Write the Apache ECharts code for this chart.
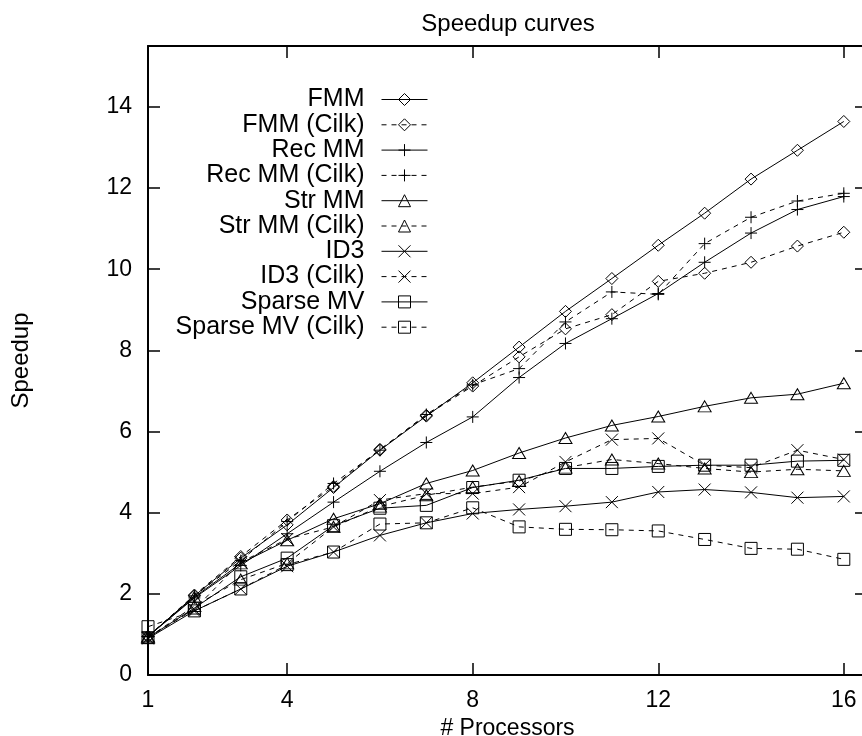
<!DOCTYPE html>
<html>
<head>
<meta charset="utf-8">
<title>Speedup curves</title>
<script src="https://cdn.jsdelivr.net/npm/echarts@6/dist/echarts.min.js"></script>
<style>
  html, body { margin: 0; padding: 0; background: #fff; }
  #chart { width: 862px; height: 736px; }
</style>
</head>
<body>
<div id="chart"></div>
<script>
// number of processors
const procs = [1, 2, 3, 4, 5, 6, 7, 8, 9, 10, 11, 12, 13, 14, 15, 16];
const xTicks = [1, 4, 8, 12, 16];
const yTicks = [0, 2, 4, 6, 8, 10, 12, 14];

// speedup values
const fmm          = [0.95, 1.95, 2.88, 3.70, 4.62, 5.54, 6.38, 7.20, 8.08, 8.96, 9.77, 10.59, 11.38, 12.22, 12.93, 13.64];
const fmmCilk      = [0.95, 1.97, 2.92, 3.82, 4.65, 5.56, 6.40, 7.12, 7.84, 8.53, 8.88, 9.70, 9.90, 10.17, 10.57, 10.91];
const recMM        = [0.95, 1.90, 2.70, 3.48, 4.26, 5.02, 5.73, 6.36, 7.33, 8.17, 8.78, 9.40, 10.17, 10.89, 11.47, 11.79];
const recMMCilk    = [0.95, 1.95, 2.82, 3.78, 4.72, 5.54, 6.42, 7.15, 7.55, 8.70, 9.44, 9.38, 10.63, 11.28, 11.68, 11.87];
const strMM        = [0.95, 1.92, 2.75, 3.32, 3.85, 4.22, 4.72, 5.04, 5.47, 5.84, 6.15, 6.37, 6.62, 6.83, 6.92, 7.19];
const strMMCilk    = [0.92, 1.70, 2.35, 2.75, 3.65, 4.15, 4.43, 4.63, 4.78, 5.11, 5.31, 5.21, 5.09, 5.00, 5.07, 5.03];
const id3          = [0.90, 1.58, 2.12, 2.68, 3.03, 3.44, 3.75, 3.98, 4.08, 4.16, 4.26, 4.51, 4.57, 4.50, 4.37, 4.40];
const id3Cilk      = [0.92, 1.62, 2.78, 3.35, 3.65, 4.31, 4.47, 4.47, 4.63, 5.25, 5.80, 5.83, 5.17, 5.11, 5.54, 5.31];
const sparseMV     = [0.92, 1.65, 2.42, 2.88, 3.68, 4.11, 4.18, 4.62, 4.80, 5.09, 5.09, 5.14, 5.17, 5.17, 5.27, 5.29];
const sparseMVCilk = [1.19, 1.58, 2.12, 2.72, 3.03, 3.72, 3.75, 4.12, 3.65, 3.59, 3.58, 3.55, 3.34, 3.12, 3.10, 2.85];

const FONT = "'Liberation Sans', Arial, sans-serif";
const PLUS = 'path://M0,6L12,6M6,0L6,12';
const CROSS = 'path://M0,0L12,12M12,0L0,12';

function makeSeries(name, values, symbol, size, dashed) {
  return {
    name: name,
    type: 'line',
    data: procs.map((p, i) => [p, values[i]]),
    symbol: symbol,
    symbolSize: size,
    showAllSymbol: true,
    lineStyle: { color: '#000', width: 1, type: dashed ? [5, 5] : 'solid' },
    itemStyle: { color: 'transparent', borderColor: '#000', borderWidth: 1 },
    emphasis: { disabled: true }
  };
}

const chart = echarts.init(document.getElementById('chart'));

const option = {
  animation: false,
  backgroundColor: '#fff',
  title: {
    text: 'Speedup curves',
    left: 508,
    top: 12,
    padding: 0,
    textAlign: 'center',
    textStyle: { fontFamily: FONT, fontSize: 24, fontWeight: 'normal', color: '#000' }
  },
  legend: {
    orient: 'vertical',
    align: 'right',
    right: 434,
    top: 87,
    padding: 0,
    itemGap: 0.3,
    itemWidth: 46,
    itemHeight: 15,
    itemStyle: { borderWidth: 1 },
    lineStyle: { width: 1 },
    textStyle: { fontFamily: FONT, fontSize: 25, color: '#000', padding: [0, 12, 0, 0] },
    selectedMode: false
  },
  grid: { left: 148, top: 46, width: 719, height: 629, outerBoundsMode: 'none', containLabel: false },
  xAxis: [
    {
      type: 'value',
      min: 1,
      max: 16.5,
      name: '# Processors',
      nameLocation: 'middle',
      nameGap: 41,
      nameTextStyle: { fontFamily: FONT, fontSize: 23, color: '#000' },
      axisLine: { show: true, lineStyle: { color: '#000', width: 2 } },
      axisTick: { show: true, inside: true, length: 12, customValues: xTicks, lineStyle: { color: '#000', width: 1.5 } },
      axisLabel: { customValues: xTicks, margin: 14, fontFamily: FONT, fontSize: 23, color: '#000' },
      splitLine: { show: false }
    },
    {
      type: 'value',
      position: 'top',
      min: 1,
      max: 16.5,
      axisLine: { show: true, onZero: false, lineStyle: { color: '#000', width: 2 } },
      axisTick: { show: true, inside: true, length: 12, customValues: xTicks, lineStyle: { color: '#000', width: 1.5 } },
      axisLabel: { show: false },
      splitLine: { show: false }
    }
  ],
  yAxis: [
    {
      type: 'value',
      min: 0,
      max: 15.5,
      name: 'Speedup',
      nameLocation: 'middle',
      nameGap: 115,
      nameTextStyle: { fontFamily: FONT, fontSize: 24, color: '#000' },
      axisLine: { show: true, onZero: false, lineStyle: { color: '#000', width: 2 } },
      axisTick: { show: true, inside: true, length: 12, customValues: yTicks, lineStyle: { color: '#000', width: 1.5 } },
      axisLabel: { customValues: yTicks, margin: 16, fontFamily: FONT, fontSize: 23, color: '#000' },
      splitLine: { show: false }
    },
    {
      type: 'value',
      position: 'right',
      min: 0,
      max: 15.5,
      axisLine: { show: true, onZero: false, lineStyle: { color: '#000', width: 2 } },
      axisTick: { show: true, inside: true, length: 12, customValues: yTicks, lineStyle: { color: '#000', width: 1.5 } },
      axisLabel: { show: false },
      splitLine: { show: false }
    }
  ],
  series: [
    makeSeries('FMM', fmm, 'diamond', 12, false),
    makeSeries('FMM (Cilk)', fmmCilk, 'diamond', 12, true),
    makeSeries('Rec MM', recMM, PLUS, 12, false),
    makeSeries('Rec MM (Cilk)', recMMCilk, PLUS, 12, true),
    makeSeries('Str MM', strMM, 'triangle', [13, 11], false),
    makeSeries('Str MM (Cilk)', strMMCilk, 'triangle', [13, 11], true),
    makeSeries('ID3', id3, CROSS, 12, false),
    makeSeries('ID3 (Cilk)', id3Cilk, CROSS, 12, true),
    makeSeries('Sparse MV', sparseMV, 'rect', 12, false),
    makeSeries('Sparse MV (Cilk)', sparseMVCilk, 'rect', 12, true)
  ]
};

chart.setOption(option);
</script>
</body>
</html>
